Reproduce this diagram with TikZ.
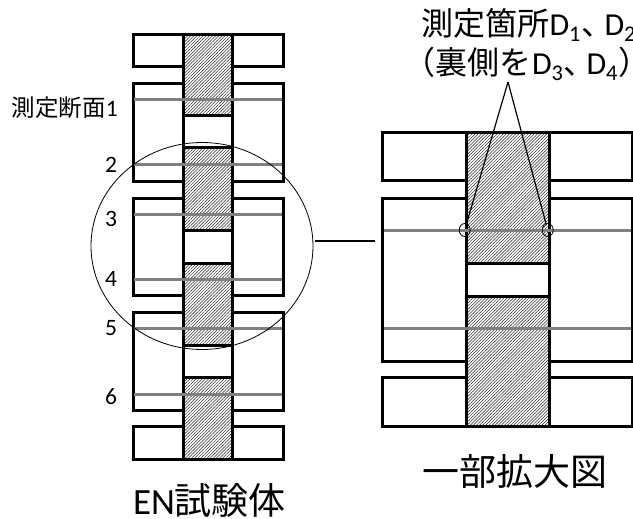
\documentclass[tikz,border=0pt]{standalone}
\usepackage{fontspec}
\setmainfont{Carlito}
\newfontfamily\jpfont{Noto Sans CJK JP}
\usetikzlibrary{patterns.meta,shapes.geometric}

\begin{document}
\begin{tikzpicture}[x = 1pt, y = -1pt, outer sep = 0pt, inner sep = 0pt]
	\tikzstyle{block} = [rectangle, draw = black, line width = 3pt, anchor = north west]
	\tikzstyle{steel} = [block, pattern = {Lines[angle = 45, distance = 2.2pt, line width = 0.5pt]}, pattern color = black!85]
	\tikzstyle{gauge} = [draw = black!50, line width = 3pt]
	\tikzstyle{lead} = [draw = black, line width = 1.2pt]
	\tikzstyle{small} = [anchor = base, font = \fontsize{23.5}{26}\selectfont]
	\tikzstyle{mid} = [anchor = base west, font = \fontsize{32}{36}\selectfont]
	\tikzstyle{big} = [anchor = base west, font = \fontsize{37}{40}\selectfont]
	\useasboundingbox (0,0) rectangle (633,519);
	% specimen
	\node [block, minimum width = 50pt, minimum height = 32pt] (A1) at (133,35) {};
	\node [block, minimum width = 51pt, minimum height = 32pt] (A2) at (232,35) {};
	\node [block, minimum width = 50pt, minimum height = 98pt] (B1) at (133,84) {};
	\node [block, minimum width = 51pt, minimum height = 98pt] (B2) at (232,84) {};
	\node [block, minimum width = 50pt, minimum height = 97pt] (C1) at (133,198) {};
	\node [block, minimum width = 51pt, minimum height = 97pt] (C2) at (232,198) {};
	\node [block, minimum width = 50pt, minimum height = 98pt] (E1) at (133,312) {};
	\node [block, minimum width = 51pt, minimum height = 98pt] (E2) at (232,312) {};
	\node [block, minimum width = 50pt, minimum height = 33pt] (F1) at (133,426) {};
	\node [block, minimum width = 51pt, minimum height = 33pt] (F2) at (232,426) {};
	\node [steel, minimum width = 49pt, minimum height = 81pt] (S1) at (183,35) {};
	\node [block, minimum width = 49pt, minimum height = 32pt] (W1) at (183,116) {};
	\node [steel, minimum width = 49pt, minimum height = 82pt] (S2) at (183,148) {};
	\node [block, minimum width = 49pt, minimum height = 33pt] (W2) at (183,230) {};
	\node [steel, minimum width = 49pt, minimum height = 82pt] (S3) at (183,263) {};
	\node [block, minimum width = 49pt, minimum height = 32pt] (W3) at (183,345) {};
	\node [steel, minimum width = 49pt, minimum height = 82pt] (S4) at (183,377) {};
	% sections
	\coordinate (P1) at (134,100);
	\coordinate (Q1) at (282,100);
	\coordinate (P2) at (134,165);
	\coordinate (Q2) at (282,165);
	\coordinate (P3) at (134,214);
	\coordinate (Q3) at (282,214);
	\coordinate (P4) at (134,279);
	\coordinate (Q4) at (282,279);
	\coordinate (P5) at (134,328);
	\coordinate (Q5) at (282,328);
	\coordinate (P6) at (134,394);
	\coordinate (Q6) at (282,394);
	\draw [gauge] (P1) -- (Q1);
	\draw [gauge] (P2) -- (Q2);
	\draw [gauge] (P3) -- (Q3);
	\draw [gauge] (P4) -- (Q4);
	\draw [gauge] (P5) -- (Q5);
	\draw [gauge] (P6) -- (Q6);
	\node [small, anchor = base west] (L1) at (12,117) {{\jpfont 測定断面}1};
	\node [small] (L2) at (111,173) {2};
	\node [small] (L3) at (111,226) {3};
	\node [small] (L4) at (111,286) {4};
	\node [small] (L5) at (111,335) {5};
	\node [small] (L6) at (111,404) {6};
	\node [big] (T1) at (133,514) {EN{\jpfont 試験体}};
	% detail
	\node [ellipse, draw = black, line width = 0.8pt, minimum width = 222pt, minimum height = 207pt] (Z) at (202,246) {};
	\coordinate (Z2) at (375,241);
	\draw [lead] (Z.east |- Z2) ++(2,0) coordinate (Z1) -- (Z2);
	\node [block, minimum width = 84pt, minimum height = 48pt] (G1) at (382,133) {};
	\node [block, minimum width = 83pt, minimum height = 48pt] (G2) at (549,133) {};
	\node [block, minimum width = 84pt, minimum height = 163pt] (H1) at (382,198) {};
	\node [block, minimum width = 83pt, minimum height = 163pt] (H2) at (549,198) {};
	\node [block, minimum width = 84pt, minimum height = 49pt] (J1) at (382,377) {};
	\node [block, minimum width = 83pt, minimum height = 49pt] (J2) at (549,377) {};
	\node [steel, minimum width = 83pt, minimum height = 130pt] (S5) at (466,133) {};
	\node [block, minimum width = 83pt, minimum height = 33pt] (W4) at (466,263) {};
	\node [steel, minimum width = 83pt, minimum height = 130pt] (S6) at (466,296) {};
	\coordinate (P7) at (384,230);
	\coordinate (Q7) at (631,230);
	\coordinate (P8) at (384,328);
	\coordinate (Q8) at (631,328);
	\draw [gauge] (P7) -- (Q7);
	\draw [gauge] (P8) -- (Q8);
	\node [ellipse, draw = black, line width = 0.8pt, minimum width = 11pt, minimum height = 13pt] (D1) at (464.7,230) {};
	\node [ellipse, draw = black, line width = 0.8pt, minimum width = 11pt, minimum height = 13pt] (D2) at (547.7,230) {};
	\coordinate (apex) at (508,82);
	\draw [lead] (apex) -- (D1);
	\draw [lead] (apex) -- (D2);
	\node [mid] (T2) at (421.5,36) {{\jpfont 測定箇所}D\textsubscript{1}{\jpfont 、\kern-8.5pt}D\textsubscript{2}};
	\node [mid] (T3) at (403,75) {{\jpfont （\kern1pt 裏側を}D\textsubscript{3}{\jpfont 、\kern-9pt}D\textsubscript{4}{\jpfont ）\kern-16pt}};
	\node [big] (T4) at (422,485) {\jpfont 一部拡大図};
\end{tikzpicture}
\end{document}
